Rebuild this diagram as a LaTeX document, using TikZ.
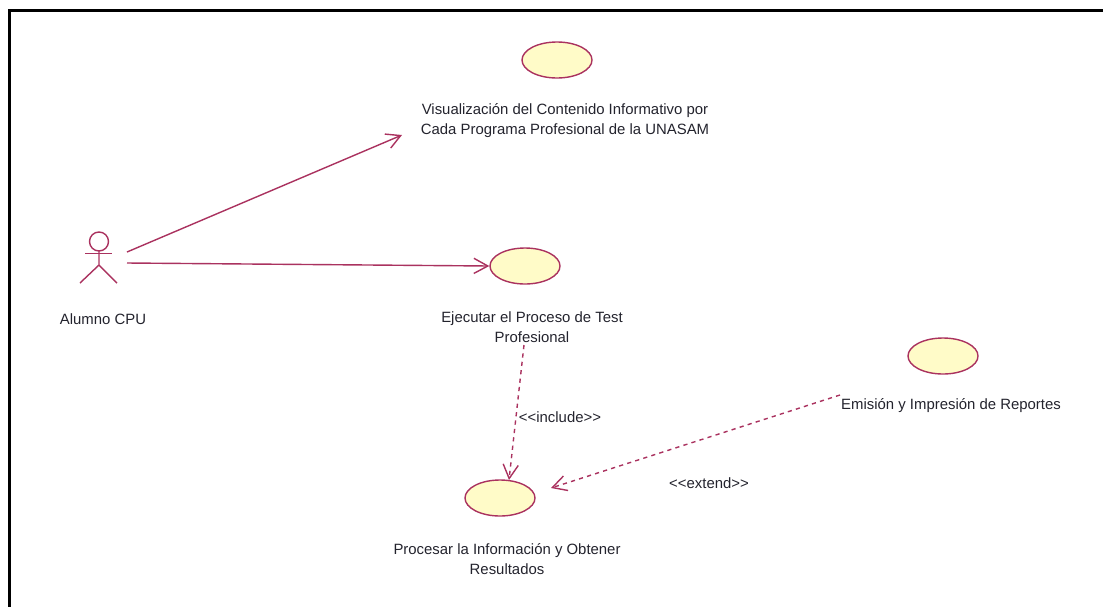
\documentclass[tikz,border=0pt]{standalone}
\usepackage{fontspec}
\setmainfont{Liberation Sans}
\usetikzlibrary{shapes.geometric, arrows.meta}

\definecolor{umlline}{RGB}{170,50,95}
\definecolor{umlfill}{RGB}{255,251,200}
\definecolor{umltext}{RGB}{35,35,45}

\tikzset{
  usecase/.style={ellipse, draw=umlline, fill=umlfill, line width=1pt, minimum width=1.75cm, minimum height=0.9cm, inner sep=0pt},
  umllabel/.style={text=umltext, font=\fontsize{10.6}{14.2}\selectfont, align=center, inner sep=0pt},
  assoc/.style={umlline, line width=1pt, -{Straight Barb[length=3.5mm, width=3.8mm]}},
  depend/.style={assoc, dashed}
}

\begin{document}
\begin{tikzpicture}[x=0.025cm, y=-0.025cm]

\useasboundingbox ( 0, 0 ) rectangle ( 1103, 607 );

% Frame
\draw [line width=1.8pt] ( 1103, 10.5 ) -- ( 9.5, 10.5 ) -- ( 9.5, 607 );

% Actor
\draw [umlline, line width=1pt] ( 99, 241.5 ) circle ( 9.5 );
\draw [umlline, line width=1pt] ( 99, 251 ) -- ( 99, 265 ) -- ( 80, 283 );
\draw [umlline, line width=1pt] ( 99, 265 ) -- ( 117, 283 );
\draw [umlline, line width=1.2pt] ( 85, 253.5 ) -- ( 112, 253.5 );
\coordinate (alumnoTop) at ( 127, 252 );
\coordinate (alumnoMid) at ( 127, 263 );
\node (alumno) at ( 103, 319 ) [umllabel] {Alumno CPU};

% Use cases
\node (visualEllipse) at ( 557, 60 ) [usecase] {};
\node (ejecutarEllipse) at ( 525, 266 ) [usecase] {};
\node (emisionEllipse) at ( 943, 356 ) [usecase] {};
\node (procesarEllipse) at ( 500, 498 ) [usecase] {};

% Use case labels
\node (visual) at ( 565, 120.5 ) [umllabel] {Visualización del Contenido Informativo por\\Cada Programa Profesional de la UNASAM};
\node (ejecutar) at ( 532, 327 ) [umllabel] {Ejecutar el Proceso de Test\\Profesional};
\node (emision) at ( 951, 406 ) [umllabel] {Emisión y Impresión de Reportes};
\node (procesar) at ( 507, 559 ) [umllabel] {Procesar la Información y Obtener\\Resultados};

% Free ends
\coordinate (visualEnd) at ( 402, 135 );
\coordinate (ejecutarStart) at ( 524, 345 );
\coordinate (emisionStart) at ( 840, 395 );
\coordinate (procesarEnd) at ( 551, 488 );
\coordinate (procesarTop) at ( 509, 480 );

% Connectors
\draw [assoc] (alumnoTop) -- (visualEnd);
\draw [assoc] (alumnoMid) -- (ejecutarEllipse.west);
\draw [depend] (ejecutarStart) -- (procesarTop);
\draw [depend] (emisionStart) -- (procesarEnd);

% Stereotypes
\node (include) at ( 560, 417 ) [umllabel] {<{}<include>{}>};
\node (extend) at ( 709, 483 ) [umllabel] {<{}<extend>{}>};

\end{tikzpicture}
\end{document}
